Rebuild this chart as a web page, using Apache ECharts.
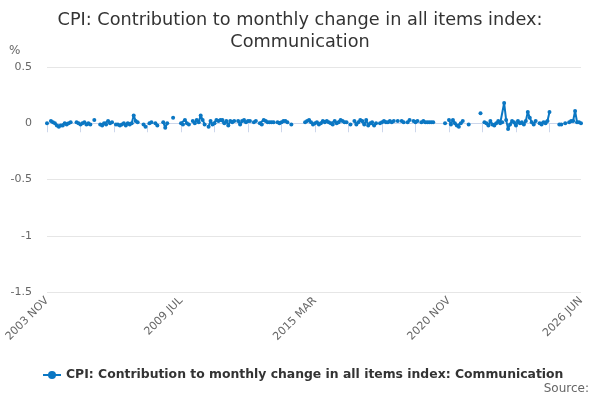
<!DOCTYPE html>
<html>
<head>
<meta charset="utf-8">
<script src="https://cdn.jsdelivr.net/npm/echarts@6/dist/echarts.min.js"></script>
<style>
    html, body { margin: 0; padding: 0; background: #fff; }
    #chart { width: 600px; height: 400px; }
</style>
</head>
<body>
<div id="chart"></div>
<script>
// CPI 通信类对月度变化的贡献

const MONTHS = ['JAN', 'FEB', 'MAR', 'APR', 'MAY', 'JUN', 'JUL', 'AUG', 'SEP', 'OCT', 'NOV', 'DEC'];

// 类目：2003 NOV ~ 2026 JUN
const categories = [];
for (let y = 2003, m = 10; y < 2026 || (y === 2026 && m <= 5); m++) {
    if (m === 12) { m = 0; y++; }
    categories.push(y + ' ' + MONTHS[m]);
}

const labelIndexes = [0, 68, 136, 204, 271];
const yTicks = [-1.5, -1, -0.5, 0, 0.5];

const values = [
    0, null, 0.02, 0.01, 0.0, -0.02, -0.03, -0.02, -0.02, 0.0,
    -0.01, 0.0, 0.01, null, null, 0.01, 0.0, -0.01, 0.0, 0.01,
    -0.01, 0.0, -0.01, null, 0.03, null, null, -0.01, -0.02, 0.0,
    -0.01, 0.02, 0.0, 0.01, null, -0.01, -0.01, -0.02, -0.01, 0.0,
    -0.02, 0.0, -0.01, 0.0, 0.07, 0.02, 0.01, null, null, -0.01,
    -0.03, null, 0.0, 0.01, null, 0.0, -0.02, null, null, 0.01,
    -0.04, 0.0, null, null, 0.05, null, null, null, 0.0, -0.01,
    0.03, 0.0, -0.01, null, 0.02, 0.0, 0.03, 0.01, 0.07, 0.03,
    -0.01, null, -0.03, 0.02, -0.01, 0.0, 0.03, 0.02, 0.03, 0.03,
    0.0, 0.02, -0.02, 0.02, 0.01, 0.02, null, 0.02, -0.01, 0.02,
    0.03, 0.01, 0.02, 0.02, null, 0.01, 0.02, null, 0.0, -0.01,
    0.03, 0.02, 0.01, 0.01, 0.01, 0.01, null, 0.01, 0.0, 0.01,
    0.02, 0.02, 0.01, null, -0.01, null, null, null, null, null,
    null, 0.01, 0.02, 0.03, 0.01, -0.01, 0.0, 0.01, -0.01, 0.0,
    0.02, 0.01, 0.02, 0.01, 0.0, -0.01, 0.02, 0.0, 0.01, 0.03,
    0.02, 0.01, 0.01, null, -0.01, null, 0.02, -0.01, 0.01, 0.03,
    0.02, -0.01, 0.03, -0.02, 0.0, 0.01, -0.02, 0.0, null, 0.0,
    0.01, 0.02, 0.01, 0.01, 0.02, 0.01, 0.02, null, 0.02, null,
    0.02, 0.01, null, 0.01, 0.03, null, 0.02, 0.01, 0.02, null,
    0.01, 0.02, 0.01, 0.01, 0.01, 0.01, 0.01, null, null, null,
    null, null, 0.0, null, 0.03, -0.01, 0.03, 0.0, -0.02, -0.03,
    0.0, 0.02, null, null, -0.01, null, null, null, null, null,
    0.09, null, 0.01, 0.0, -0.02, 0.02, -0.01, -0.02, 0.0, 0.02,
    0.0, 0.01, 0.18, 0.03, -0.05, -0.01, 0.02, 0.01, -0.02, 0.02,
    0.0, 0.01, -0.01, 0.02, 0.1, 0.05, 0.01, -0.01, 0.02, null,
    0.0, -0.01, 0.01, 0.0, 0.02, 0.1, null, null, null, null,
    -0.01, -0.01, null, 0.0, null, 0.01, 0.02, 0.02, 0.11, 0.01,
    0.01, 0.0
];

const SERIES_NAME = 'CPI: Contribution to monthly change in all items index: Communication';
const BLUE = '#0b77c3';
const FONT = 'DejaVu Sans';

const chart = echarts.init(document.getElementById('chart'));

const option = {
    animation: false,
    textStyle: { fontFamily: FONT },
    title: {
        text: 'CPI: Contribution to monthly change in all items index:\nCommunication',
        left: 'center',
        top: 4,
        textStyle: {
            fontFamily: FONT,
            fontSize: 17.7,
            fontWeight: 'normal',
            color: '#333',
            lineHeight: 22
        }
    },
    legend: {
        left: 37,
        top: 364,
        itemWidth: 18,
        itemHeight: 10,
        itemGap: 5,
        textStyle: {
            fontFamily: FONT,
            fontSize: 12.4,
            fontWeight: 'bold',
            color: '#333'
        },
        data: [SERIES_NAME]
    },
    graphic: [
        {
            type: 'text',
            left: 9,
            top: 45,
            style: { text: '%', fontFamily: FONT, fontSize: 12, fill: '#666' }
        },
        {
            type: 'text',
            right: 11,
            top: 383,
            style: { text: 'Source:', fontFamily: FONT, fontSize: 12, fill: '#666' }
        }
    ],
    grid: {
        left: 47,
        right: 19,
        top: 67,
        bottom: 108
    },
    xAxis: {
        type: 'category',
        data: categories,
        boundaryGap: false,
        axisLine: { lineStyle: { color: '#ccd6eb' } },
        axisTick: {
            length: 9,
            interval: (i) => i % 17 === 0,
            lineStyle: { color: '#ccd6eb' }
        },
        axisLabel: {
            interval: (i) => labelIndexes.includes(i),
            rotate: 45,
            fontFamily: FONT,
            fontSize: 11,
            color: '#666',
            margin: 7
        },
        splitLine: { show: false }
    },
    yAxis: {
        type: 'value',
        min: yTicks[0],
        max: yTicks[yTicks.length - 1],
        interval: 0.5,
        axisLine: { show: false },
        axisTick: { show: false },
        axisLabel: {
            fontFamily: FONT,
            fontSize: 11,
            color: '#666',
            margin: 15
        },
        splitLine: { lineStyle: { color: '#e6e6e6' } }
    },
    series: [
        {
            name: SERIES_NAME,
            type: 'line',
            data: values,
            connectNulls: false,
            showSymbol: true,
            showAllSymbol: true,
            symbol: 'circle',
            symbolSize: 4,
            lineStyle: { width: 2, color: BLUE },
            itemStyle: { color: BLUE }
        }
    ]
};

chart.setOption(option);
</script>
</body>
</html>
